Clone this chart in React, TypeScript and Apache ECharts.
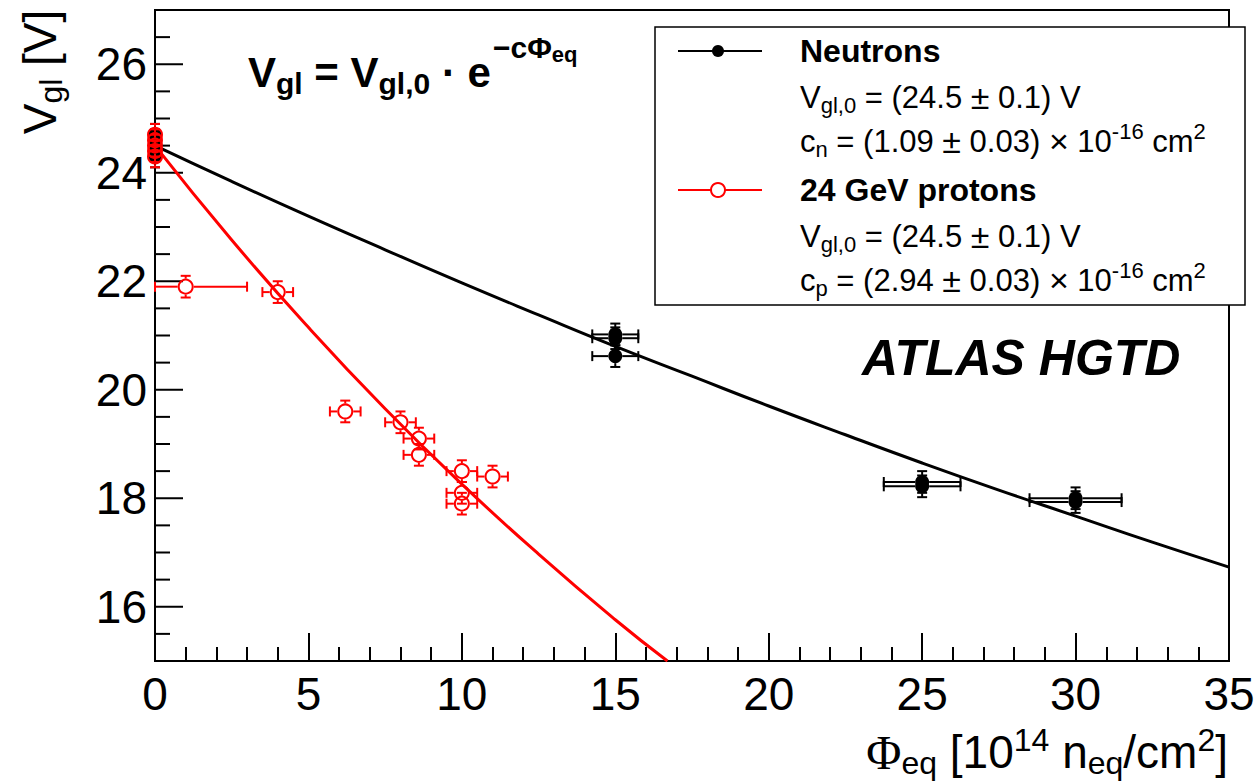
import React, { useEffect, useRef } from "react";
import * as echarts from "echarts";

// ---- Data ----
const neutronX = [0, 0, 0, 0, 0, 15, 15, 15, 25, 25, 30, 30];
const neutronY = [24.3, 24.4, 24.5, 24.6, 24.7, 21.02, 20.95, 20.62, 18.3, 18.22, 18.0, 17.93];
const neutronXErr = [0, 0, 0, 0, 0, 0.75, 0.75, 0.75, 1.25, 1.25, 1.5, 1.5];
const neutronYErr = [0.2, 0.2, 0.2, 0.2, 0.2, 0.2, 0.2, 0.2, 0.2, 0.2, 0.2, 0.2];

const protonX = [0, 0, 0, 0, 0, 1, 4, 6.2, 8, 8.6, 8.6, 10, 11, 10, 10];
const protonY = [24.3, 24.4, 24.5, 24.6, 24.7, 21.9, 21.8, 19.6, 19.4, 19.1, 18.8, 18.5, 18.4, 18.1, 17.9];
const protonXErrLo = [0, 0, 0, 0, 0, 1, 0.5, 0.5, 0.5, 0.5, 0.5, 0.5, 0.5, 0.5, 0.5];
const protonXErrHi = [0, 0, 0, 0, 0, 2, 0.5, 0.5, 0.5, 0.5, 0.5, 0.5, 0.5, 0.5, 0.5];
const protonYErr = [0.2, 0.2, 0.2, 0.2, 0.2, 0.2, 0.2, 0.2, 0.2, 0.2, 0.2, 0.2, 0.2, 0.2, 0.2];

const neutronFitX = [0, 2.5, 5, 7.5, 10, 12.5, 15, 17.5, 20, 22.5, 25, 27.5, 30, 32.5, 35];
const neutronFitY = [24.5, 23.84, 23.2, 22.58, 21.97, 21.38, 20.8, 20.25, 19.7, 19.17, 18.65, 18.15, 17.67, 17.19, 16.73];
const protonFitX = [0, 2.5, 5, 7.5, 10, 12.5, 15, 16.7];
const protonFitY = [24.5, 22.76, 21.15, 19.65, 18.26, 16.97, 15.76, 15.0];

const yMinorTicks = [15, 15.5, 16, 16.5, 17, 17.5, 18, 18.5, 19, 19.5, 20, 20.5, 21, 21.5, 22, 22.5, 23, 23.5, 24, 24.5, 25, 25.5, 26, 26.5];
const xTickMin = 0, xTickMax = 35, xTickStep = 5;
const yTickMin = 15, yTickMax = 27, yTickStep = 1;

const FONT = "'Liberation Sans', Arial, Helvetica, sans-serif";
const SERIF = "'Liberation Serif', 'DejaVu Serif', serif";

function makeRender(color: string, filled: boolean, r: number) {
  return (params: any, api: any) => {
    const x = api.value(0), y = api.value(1);
    const xlo = api.value(2), xhi = api.value(3), ye = api.value(4);
    const c = api.coord([x, y]);
    const pl = api.coord([x - xlo, y]);
    const ph = api.coord([x + xhi, y]);
    const pt = api.coord([x, y + ye]);
    const pb = api.coord([x, y - ye]);
    const cap = 5;
    const st = { stroke: color, lineWidth: 2 };
    const ch: any[] = [];
    if (xlo > 0 && c[0] - pl[0] > r) {
      ch.push({ type: "line", shape: { x1: pl[0], y1: c[1], x2: c[0] - r, y2: c[1] }, style: st });
      ch.push({ type: "line", shape: { x1: pl[0], y1: c[1] - cap, x2: pl[0], y2: c[1] + cap }, style: st });
    }
    if (xhi > 0 && ph[0] - c[0] > r) {
      ch.push({ type: "line", shape: { x1: c[0] + r, y1: c[1], x2: ph[0], y2: c[1] }, style: st });
      ch.push({ type: "line", shape: { x1: ph[0], y1: c[1] - cap, x2: ph[0], y2: c[1] + cap }, style: st });
    }
    if (ye > 0) {
      ch.push({ type: "line", shape: { x1: c[0], y1: pt[1], x2: c[0], y2: c[1] - r }, style: st });
      ch.push({ type: "line", shape: { x1: c[0] - cap, y1: pt[1], x2: c[0] + cap, y2: pt[1] }, style: st });
      ch.push({ type: "line", shape: { x1: c[0], y1: c[1] + r, x2: c[0], y2: pb[1] }, style: st });
      ch.push({ type: "line", shape: { x1: c[0] - cap, y1: pb[1], x2: c[0] + cap, y2: pb[1] }, style: st });
    }
    ch.push({
      type: "circle",
      shape: { cx: c[0], cy: c[1], r: filled ? r : r - 1 },
      style: filled ? { fill: color } : { fill: "none", stroke: color, lineWidth: 2 },
    });
    return { type: "group", children: ch };
  };
}

export default function App() {
  const ref = useRef<HTMLDivElement>(null);
  useEffect(() => {
    const chart = echarts.init(ref.current!, null, { renderer: "svg" });

    const neutronData = neutronX.map((x, i) => [x, neutronY[i], neutronXErr[i], neutronXErr[i], neutronYErr[i]]);
    const protonData = protonX.map((x, i) => [x, protonY[i], protonXErrLo[i], protonXErrHi[i], protonYErr[i]]);

    const legRegular = { fontFamily: FONT, fontSize: 31, color: "#000", lineHeight: 40 };
    const legSym = { fontFamily: FONT, fontSize: 34, color: "#000", lineHeight: 40 };
    const legSub = { fontFamily: FONT, fontSize: 22, color: "#000", lineHeight: 40, padding: [16, 0, 0, 0] };
    const legSup = { fontFamily: FONT, fontSize: 22, color: "#000", lineHeight: 40, padding: [0, 0, 20, 0] };
    const legRich = { r: legRegular, s: legSub, u: legSup, x: legSym };

    const option: any = {
      animation: false,
      backgroundColor: "#fff",
      grid: {
        left: 155, right: 29, top: 10, bottom: 122,
        show: true, borderColor: "#000", borderWidth: 2, backgroundColor: "transparent",
      },
      xAxis: {
        type: "value", min: xTickMin, max: xTickMax, interval: xTickStep,
        axisLine: { show: true, lineStyle: { color: "#000", width: 2 } },
        axisTick: { show: true, inside: true, length: 28, lineStyle: { color: "#000", width: 2 } },
        minorTick: { show: true, splitNumber: 5, length: 14, lineStyle: { color: "#000", width: 2 } },
        splitLine: { show: false },
        axisLabel: { fontFamily: FONT, fontSize: 46, color: "#000", margin: 10 },
      },
      yAxis: {
        type: "value", min: yTickMin, max: yTickMax, interval: yTickStep,
        axisLine: { show: true, lineStyle: { color: "#000", width: 2 } },
        axisTick: { show: false },
        minorTick: { show: false },
        splitLine: { show: false },
        axisLabel: {
          fontFamily: FONT, fontSize: 46, color: "#000", margin: 8,
          formatter: (v: number) => (v % 2 === 0 && v >= 16 && v <= 26 ? String(v) : ""),
        },
      },
      series: [
        {
          type: "custom", name: "ticksY", silent: true, z: 3,
          data: yMinorTicks,
          encode: { y: 0 },
          renderItem: (params: any, api: any) => {
            const v = api.value(0);
            const p = api.coord([0, v]);
            const major = Math.abs(v % 2) < 1e-6;
            return {
              type: "line",
              shape: { x1: p[0], y1: p[1], x2: p[0] + (major ? 28 : 15), y2: p[1] },
              style: { stroke: "#000", lineWidth: 2 },
            };
          },
        },
        {
          type: "line", name: "Neutron fit", data: neutronFitX.map((x, i) => [x, neutronFitY[i]]),
          showSymbol: false, smooth: true, lineStyle: { color: "#000", width: 3 }, z: 4,
        },
        {
          type: "line", name: "Proton fit", data: protonFitX.map((x, i) => [x, protonFitY[i]]),
          showSymbol: false, smooth: true, lineStyle: { color: "#ff0000", width: 3 }, z: 4,
        },
        {
          type: "custom", name: "Neutrons", data: neutronData, encode: { x: 0, y: 1 },
          renderItem: makeRender("#000", true, 7), z: 5,
        },
        {
          type: "custom", name: "24 GeV protons", data: protonData, encode: { x: 0, y: 1 },
          renderItem: makeRender("#ff0000", false, 8), z: 6,
        },
      ],
      graphic: [
        // y axis title
        {
          type: "text", x: 40, y: 72, rotation: Math.PI / 2, z: 10,
          style: {
            text: "{a|V}{s|gl}{a| [V]}",
            align: "center", verticalAlign: "middle",
            rich: {
              a: { fontFamily: FONT, fontSize: 46, color: "#000", lineHeight: 56 },
              s: { fontFamily: FONT, fontSize: 32, color: "#000", lineHeight: 56, padding: [22, 0, 0, 0] },
            },
          },
        },
        // x axis title
        {
          type: "text", x: 1228, y: 752, z: 10,
          style: {
            text: "{p|Φ}{s|eq}{a| [10}{u|14}{a| n}{s|eq}{a|/cm}{u|2}{a|]}",
            align: "right", verticalAlign: "middle",
            rich: {
              p: { fontFamily: SERIF, fontSize: 48, color: "#000", lineHeight: 56 },
              a: { fontFamily: FONT, fontSize: 46, color: "#000", lineHeight: 56 },
              s: { fontFamily: FONT, fontSize: 32, color: "#000", lineHeight: 56, padding: [22, 0, 0, 0] },
              u: { fontFamily: FONT, fontSize: 32, color: "#000", lineHeight: 56, padding: [0, 0, 24, 0] },
            },
          },
        },
        // formula (base line)
        {
          type: "text", x: 248, y: 72, z: 10,
          style: {
            text: "{b|V}{s|gl}{b| = V}{s|gl,0}{b| · e}",
            align: "left", verticalAlign: "middle",
            rich: {
              b: { fontFamily: FONT, fontSize: 42, fontWeight: "bold", color: "#000", lineHeight: 60 },
              s: { fontFamily: FONT, fontSize: 30, fontWeight: "bold", color: "#000", lineHeight: 60, padding: [22, 0, 0, 0] },
            },
          },
        },
        // formula (exponent)
        {
          type: "text", x: 493, y: 47, z: 10,
          style: {
            text: "{u|−cΦ}{v|eq}",
            align: "left", verticalAlign: "middle",
            rich: {
              u: { fontFamily: FONT, fontSize: 30, fontWeight: "bold", color: "#000", lineHeight: 40 },
              v: { fontFamily: FONT, fontSize: 22, fontWeight: "bold", color: "#000", lineHeight: 40, padding: [14, 0, 0, 0] },
            },
          },
        },
        // ATLAS HGTD
        {
          type: "text", x: 862, y: 358, z: 10,
          style: {
            text: "ATLAS HGTD", fontFamily: FONT, fontSize: 50, fontWeight: "bold", fontStyle: "italic",
            fill: "#000", align: "left", verticalAlign: "middle",
          },
        },
        // legend box
        {
          type: "rect", z: 20, shape: { x: 655, y: 27, width: 590, height: 278 },
          style: { fill: "#fff", stroke: "#000", lineWidth: 1.5 },
        },
        { type: "line", z: 21, shape: { x1: 678, y1: 51, x2: 762, y2: 51 }, style: { stroke: "#000", lineWidth: 2 } },
        { type: "circle", z: 21, shape: { cx: 718, cy: 51, r: 6 }, style: { fill: "#000" } },
        {
          type: "text", z: 21, x: 800, y: 51,
          style: { text: "Neutrons", fontFamily: FONT, fontSize: 32, fontWeight: "bold", fill: "#000", align: "left", verticalAlign: "middle" },
        },
        {
          type: "text", z: 21, x: 800, y: 97,
          style: { text: "{r|V}{s|gl,0}{r| = (24.5 }{x|±}{r| 0.1) V}", rich: legRich, align: "left", verticalAlign: "middle" },
        },
        {
          type: "text", z: 21, x: 800, y: 141,
          style: { text: "{r|c}{s|n}{r| = (1.09 }{x|±}{r| 0.03) }{x|×}{r| 10}{u|-16}{r| cm}{u|2}", rich: legRich, align: "left", verticalAlign: "middle" },
        },
        { type: "line", z: 21, shape: { x1: 678, y1: 190, x2: 762, y2: 190 }, style: { stroke: "#ff0000", lineWidth: 2 } },
        { type: "circle", z: 22, shape: { cx: 718, cy: 190, r: 7 }, style: { fill: "#fff", stroke: "#ff0000", lineWidth: 2 } },
        {
          type: "text", z: 21, x: 800, y: 190,
          style: { text: "24 GeV protons", fontFamily: FONT, fontSize: 32, fontWeight: "bold", fill: "#000", align: "left", verticalAlign: "middle" },
        },
        {
          type: "text", z: 21, x: 800, y: 236,
          style: { text: "{r|V}{s|gl,0}{r| = (24.5 }{x|±}{r| 0.1) V}", rich: legRich, align: "left", verticalAlign: "middle" },
        },
        {
          type: "text", z: 21, x: 800, y: 280,
          style: { text: "{r|c}{s|p}{r| = (2.94 }{x|±}{r| 0.03) }{x|×}{r| 10}{u|-16}{r| cm}{u|2}", rich: legRich, align: "left", verticalAlign: "middle" },
        },
      ],
    };
    chart.setOption(option);
    return () => chart.dispose();
  }, []);
  return <div ref={ref} style={{ width: 1258, height: 783, position: "absolute", left: 0, top: 0 }} />;
}
